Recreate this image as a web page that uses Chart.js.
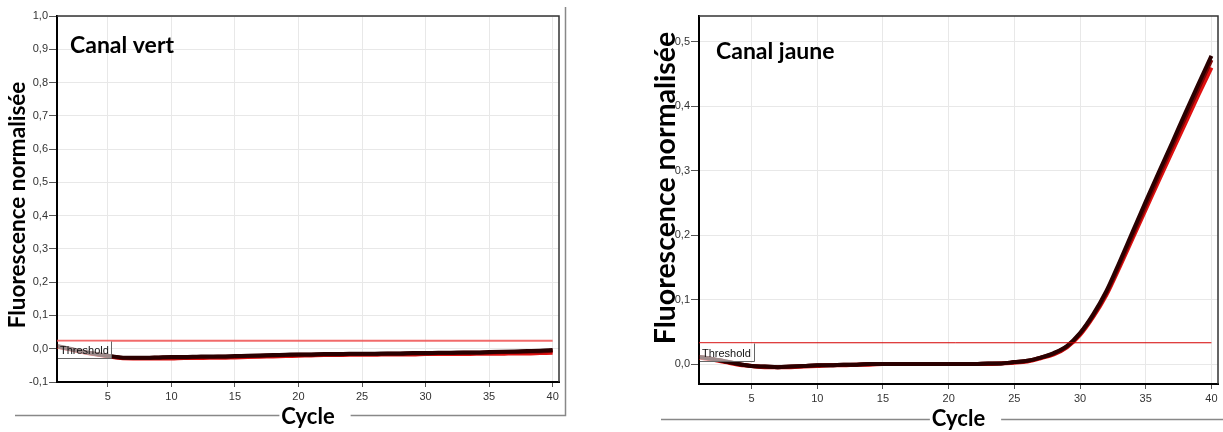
<!DOCTYPE html>
<html>
<head>
<meta charset="utf-8">
<script src="https://cdn.jsdelivr.net/npm/chart.js@4.4.1/dist/chart.umd.min.js"></script>
<style>
    html, body { margin: 0; padding: 0; background: #fff; }
    body { width: 1223px; height: 432px; position: relative; overflow: hidden; }
    .panel { position: absolute; top: 0; height: 432px; }
    #vertWrap { left: 0; width: 600px; }
    #jauneWrap { left: 640px; width: 583px; }
</style>
</head>
<body>
<div class="panel" id="vertWrap"><canvas id="chartVert"></canvas></div>
<div class="panel" id="jauneWrap"><canvas id="chartJaune"></canvas></div>
<script>
// cycles (x axis)
const cycles = [1, 2, 3, 4, 5, 6, 7, 8, 9, 10, 11, 12, 13, 14, 15, 16, 17, 18, 19, 20,
                21, 22, 23, 24, 25, 26, 27, 28, 29, 30, 31, 32, 33, 34, 35, 36, 37, 38, 39, 40];
const xTicks = [5, 10, 15, 20, 25, 30, 35, 40];

// Canal vert
const vertTicks = [-0.1, 0, 0.1, 0.2, 0.3, 0.4, 0.5, 0.6, 0.7, 0.8, 0.9, 1.0];
const vertThreshold = 0.024;
const vertDark = [0.008, 0.000, -0.008, -0.015, -0.021, -0.026, -0.027, -0.027, -0.026, -0.025,
                  -0.025, -0.024, -0.023, -0.023, -0.022, -0.021, -0.020, -0.019, -0.018, -0.017,
                  -0.017, -0.016, -0.016, -0.015, -0.015, -0.015, -0.014, -0.014, -0.013, -0.013,
                  -0.012, -0.012, -0.011, -0.011, -0.010, -0.009, -0.008, -0.007, -0.006, -0.004];
const vertBrown = [0.007, -0.001, -0.009, -0.016, -0.022, -0.027, -0.028, -0.028, -0.027, -0.026,
                   -0.026, -0.025, -0.025, -0.024, -0.023, -0.022, -0.021, -0.020, -0.019, -0.018,
                   -0.018, -0.017, -0.017, -0.016, -0.016, -0.016, -0.015, -0.015, -0.014, -0.014,
                   -0.013, -0.013, -0.012, -0.012, -0.011, -0.010, -0.010, -0.009, -0.008, -0.006];
const vertRed = [0.006, -0.002, -0.010, -0.017, -0.023, -0.028, -0.029, -0.029, -0.029, -0.029,
                 -0.028, -0.028, -0.027, -0.027, -0.026, -0.025, -0.024, -0.023, -0.022, -0.021,
                 -0.020, -0.019, -0.019, -0.018, -0.018, -0.018, -0.017, -0.017, -0.017, -0.016,
                 -0.016, -0.016, -0.016, -0.015, -0.015, -0.015, -0.014, -0.014, -0.013, -0.012];

// Canal jaune
const jauneTicks = [0, 0.1, 0.2, 0.3, 0.4, 0.5];
const jauneThreshold = 0.033;
const jauneDark = [0.011, 0.008, 0.004, 0.000, -0.003, -0.004, -0.005, -0.004, -0.003, -0.002,
                   -0.002, -0.001, -0.001, 0.000, 0.000, 0.000, 0.000, 0.000, 0.000, 0.000,
                   0.000, 0.000, 0.001, 0.001, 0.003, 0.005, 0.010, 0.017, 0.028, 0.048,
                   0.077, 0.113, 0.158, 0.205, 0.252, 0.298, 0.343, 0.389, 0.434, 0.478];
const jauneBrown = [0.011, 0.008, 0.004, 0.000, -0.003, -0.004, -0.005, -0.004, -0.003, -0.002,
                    -0.002, -0.001, -0.001, 0.000, 0.000, 0.000, 0.000, 0.000, 0.000, 0.000,
                    0.000, 0.000, 0.001, 0.001, 0.003, 0.005, 0.010, 0.016, 0.027, 0.047,
                    0.075, 0.110, 0.154, 0.200, 0.246, 0.292, 0.337, 0.382, 0.427, 0.472];
const jauneRed = [0.010, 0.007, 0.003, -0.001, -0.003, -0.005, -0.005, -0.005, -0.004, -0.003,
                  -0.002, -0.002, -0.001, -0.001, 0.000, 0.000, 0.000, 0.000, 0.000, 0.000,
                  0.000, 0.000, 0.000, 0.001, 0.002, 0.004, 0.009, 0.015, 0.026, 0.045,
                  0.073, 0.107, 0.150, 0.195, 0.240, 0.285, 0.329, 0.373, 0.417, 0.460];

const LABEL_FONT = 'Lato, "DejaVu Sans", sans-serif';
const TICK_FONT = '"Liberation Sans", Arial, sans-serif';

function toPoints(values) {
    return values.map((v, i) => ({ x: cycles[i], y: v }));
}

function curve(values, color) {
    return {
        data: toPoints(values),
        borderColor: color,
        borderWidth: 4,
        pointRadius: 0,
        cubicInterpolationMode: 'monotone',
        fill: false
    };
}

// panel decorations: title inside plot, frame, threshold box, y title, outer grey lines
const decorPlugin = {
    id: 'decor',
    afterDatasetsDraw(chart, args, opts) {
        const ctx = chart.ctx;
        const a = chart.chartArea;
        const yS = chart.scales.y;
        ctx.save();

        // threshold label box (semi transparent, over the curves)
        const ty = Math.round(yS.getPixelForValue(opts.threshold)) + 0.5;
        const bx = a.left + 1;
        ctx.fillStyle = 'rgba(255,255,255,0.55)';
        ctx.fillRect(bx, ty, opts.boxW, opts.boxH);
        ctx.strokeStyle = '#666';
        ctx.lineWidth = 1;
        ctx.beginPath();
        ctx.moveTo(bx + opts.boxW + 0.5, ty);
        ctx.lineTo(bx + opts.boxW + 0.5, ty + opts.boxH);
        ctx.lineTo(bx, ty + opts.boxH);
        ctx.stroke();
        ctx.fillStyle = '#111';
        ctx.font = '11px ' + TICK_FONT;
        ctx.textBaseline = 'middle';
        ctx.textAlign = 'left';
        ctx.fillText('Threshold', bx + 2, ty + opts.boxH / 2 + 1);

        // top and right frame
        ctx.strokeStyle = '#333';
        ctx.lineWidth = 1.5;
        ctx.beginPath();
        ctx.moveTo(a.left, a.top);
        ctx.lineTo(a.right, a.top);
        ctx.lineTo(a.right, a.bottom);
        ctx.stroke();

        // channel name
        ctx.fillStyle = '#000';
        ctx.font = 'bold 23px ' + LABEL_FONT;
        ctx.textBaseline = 'alphabetic';
        ctx.fillText(opts.title, opts.titleX, opts.titleY);

        // y axis title
        ctx.save();
        ctx.translate(opts.yTitleX, opts.yTitleY);
        ctx.rotate(-Math.PI / 2);
        ctx.font = 'bold ' + opts.yTitleSize + 'px ' + LABEL_FONT;
        ctx.textAlign = 'center';
        ctx.textBaseline = 'middle';
        ctx.fillText('Fluorescence normalisée', 0, 0);
        ctx.restore();

        // outer grey lines, broken around the "Cycle" title
        const cx = (a.left + a.right) / 2;
        ctx.font = 'bold 22px ' + LABEL_FONT;
        const tw = ctx.measureText('Cycle').width;
        ctx.strokeStyle = '#888';
        ctx.lineWidth = 1.5;
        ctx.beginPath();
        ctx.moveTo(opts.lineX0, opts.lineY);
        ctx.lineTo(cx - tw / 2 - 2, opts.lineY);
        ctx.moveTo(cx + tw / 2 + 16, opts.lineY);
        ctx.lineTo(opts.lineX1, opts.lineY);
        if (opts.sideLine) {
            ctx.lineTo(opts.lineX1, opts.sideTop);
        }
        ctx.stroke();
        ctx.restore();
    }
};

function makeChart(canvasId, cfg) {
    const datasets = [
        {
            data: [{ x: 1, y: cfg.threshold }, { x: 40, y: cfg.threshold }],
            borderColor: cfg.thresholdColor,
            borderWidth: cfg.thresholdWidth,
            pointRadius: 0,
            fill: false
        },
        curve(cfg.dark, '#2a0000'),
        curve(cfg.brown, '#7a0505'),
        curve(cfg.red, '#e01010')
    ];

    return new Chart(document.getElementById(canvasId), {
        type: 'line',
        data: { datasets: datasets },
        options: {
            responsive: true,
            maintainAspectRatio: false,
            animation: false,
            layout: { padding: { top: 16, right: cfg.padRight, left: 0, bottom: 0 } },
            plugins: {
                legend: { display: false },
                tooltip: { enabled: false },
                decor: cfg.decor
            },
            scales: {
                x: {
                    type: 'linear',
                    min: 1,
                    max: 40.5,
                    afterBuildTicks: (s) => { s.ticks = xTicks.map(v => ({ value: v })); },
                    afterFit: (s) => { s.height = cfg.xHeight; },
                    grid: { color: '#e8e8e8', tickLength: 5, tickColor: '#555' },
                    border: { display: true, color: '#000', width: 2 },
                    ticks: { color: '#333', font: { family: TICK_FONT, size: 11 }, padding: 3 },
                    title: {
                        display: true,
                        text: 'Cycle',
                        color: '#000',
                        font: { family: LABEL_FONT, size: 22, weight: 'bold' },
                        padding: { top: 0, bottom: cfg.xTitlePad }
                    }
                },
                y: {
                    type: 'linear',
                    min: cfg.yMin,
                    max: cfg.yMax,
                    afterBuildTicks: (s) => { s.ticks = cfg.yTicks.map(v => ({ value: v })); },
                    afterFit: (s) => { s.width = cfg.yWidth; },
                    grid: { color: '#e8e8e8', tickLength: 8, tickColor: '#555' },
                    border: { display: true, color: '#000', width: 2 },
                    ticks: {
                        color: '#333',
                        font: { family: TICK_FONT, size: 11 },
                        padding: 1,
                        callback: (v) => v.toFixed(1).replace('.', ',')
                    }
                }
            }
        },
        plugins: [decorPlugin]
    });
}

makeChart('chartVert', {
    threshold: vertThreshold,
    thresholdColor: 'rgba(238, 80, 80, 0.85)',
    thresholdWidth: 2,
    dark: vertDark, brown: vertBrown, red: vertRed,
    yMin: -0.1, yMax: 1.0, yTicks: vertTicks,
    yWidth: 57, xHeight: 50, padRight: 41,
    xTitlePad: 2,
    decor: {
        threshold: vertThreshold, boxW: 53, boxH: 17,
        title: 'Canal vert', titleX: 70, titleY: 53,
        yTitleX: 18, yTitleY: 205, yTitleSize: 22.5,
        lineX0: 15, lineX1: 565.5, lineY: 415.5, sideLine: true, sideTop: 7
    }
});

makeChart('chartJaune', {
    threshold: jauneThreshold,
    thresholdColor: '#d40000',
    thresholdWidth: 1,
    dark: jauneDark, brown: jauneBrown, red: jauneRed,
    yMin: -0.031, yMax: 0.54, yTicks: jauneTicks,
    yWidth: 59, xHeight: 48, padRight: 5,
    xTitlePad: 0,
    decor: {
        threshold: jauneThreshold, boxW: 54, boxH: 18,
        title: 'Canal jaune', titleX: 76, titleY: 59,
        yTitleX: 26, yTitleY: 188, yTitleSize: 28.5,
        lineX0: 21, lineX1: 583, lineY: 419.5, sideLine: false, sideTop: 0
    }
});
</script>
</body>
</html>
